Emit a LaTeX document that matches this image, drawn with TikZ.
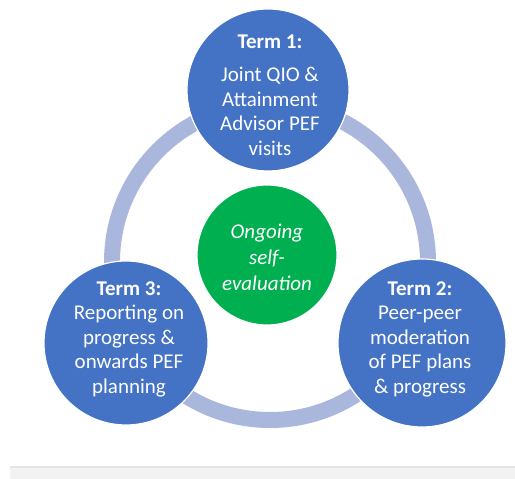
\documentclass[tikz,border=0pt]{standalone}
\usepackage{fontspec}
\setmainfont{Carlito}
\definecolor{termblue}{HTML}{4472C4}
\definecolor{selfgreen}{HTML}{00B050}
\definecolor{ringblue}{HTML}{AAB7DC}
\definecolor{barfill}{HTML}{F2F2F2}
\definecolor{barline}{HTML}{E4E4E4}
\tikzset{
  termdisc/.style={circle, fill=termblue, draw=white, line width=1.2pt, inner sep=0pt},
  greendisc/.style={circle, fill=selfgreen, draw=white, line width=1.2pt, inner sep=0pt},
  disctext/.style={text=white, align=center, inner sep=0pt, font=\fontsize{21}{24.5}\selectfont},
}
\begin{document}
\begin{tikzpicture}[x=1pt,y=1pt]
\useasboundingbox (0,0) rectangle (515,479);
\fill[white] (0,0) rectangle (515,479);
% bottom bar
\fill[barfill] (10,0) rectangle (515,12);
\draw[barline, line width=1.5pt] (10,12) -- (515,12);
% ring
\coordinate (ringc) at (270,217);
\draw[ringblue, line width=16pt] (ringc) circle[radius=158];
% discs
\node[termdisc, minimum size=162pt] (t1) at (268,389) {};
\node[termdisc, minimum size=164pt] (t3) at (126,136) {};
\node[termdisc, minimum size=168pt] (t2) at (422,136) {};
\node[greendisc, minimum size=140pt] (se) at (267,224) {};
% texts
\node[disctext] (t1txt) at (270,384) {\textbf{Term 1:}\\[9pt]Joint QIO \&\\Attainment\\Advisor PEF\\visits};
\node[disctext] (t3txt) at (129,140) {\textbf{Term 3:}\\Reporting on\\progress \&\\onwards PEF\\planning};
\node[disctext] (t2txt) at (420,140) {\textbf{Term 2:}\\Peer-peer\\moderation\\of PEF plans\\\& progress};
\node[disctext, font=\fontsize{21}{26}\selectfont\itshape] (setxt) at (267,222) {Ongoing\\self-\\evaluation};
\end{tikzpicture}
\end{document}
